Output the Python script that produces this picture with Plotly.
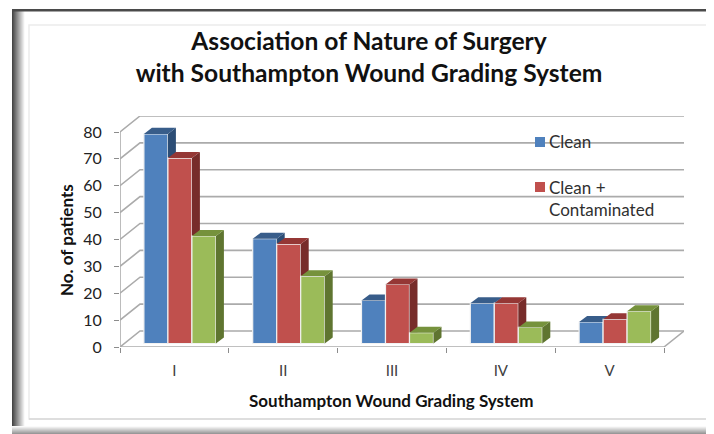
import plotly.graph_objects as go

categories = ["I", "II", "III", "IV", "V"]
clean = [78, 39, 16, 15, 8]
clean_contaminated = [69, 37, 22, 15, 9]
third_series = [40, 25, 4, 6, 12]
y_ticks = [0, 10, 20, 30, 40, 50, 60, 70, 80]

# The page has an 8px body margin, so the figure is 706x426 placed at (8, 8).
PAGE = 8
W, H = 714 - PAGE, 434 - PAGE
L, R, T, B = 120, 684, 116, 347
PX_X = 108.8
PX_Y = 2.6875
xr = [0.5, 0.5 + (R - L) / PX_X]
yr = [0, (B - T) / PX_Y]
wall_dx, wall_dy = 20 / PX_X, 16 / PX_Y
bar_dx, bar_dy = 8 / PX_X, 6 / PX_Y
bar_w = 24 / PX_X
shift, base = 5.5 / PX_X, 3.5 / PX_Y
cats = list(range(1, len(categories) + 1))


def px(x):
    return (x - L) / (R - L)


def py(y):
    return (B - y) / (B - T)


fig = go.Figure()
GRID = "#ababab"

gx, gy = [], []
for v in y_ticks:
    gx += [xr[0], xr[0] + wall_dx, cats[-1] + 0.5 + wall_dx, None]
    gy += [v, v + wall_dy, v + wall_dy, None]
gx += [cats[-1] + 0.5, cats[-1] + 0.5 + wall_dx, None, xr[0], cats[-1] + 0.5, None, xr[0], xr[0]]
gy += [0, wall_dy, None, 0, 0, None, 0, y_ticks[-1]]
fig.add_trace(go.Scatter(x=gx, y=gy, mode="lines", line=dict(color=GRID, width=1.6),
                         hoverinfo="skip", showlegend=False, cliponaxis=False))

series = [
    ("Clean", clean, "#4F81BD", "#2C4D75", "#385D8A", "x2", "y2"),
    ("Clean + Contaminated", clean_contaminated, "#C0504D", "#772C2A", "#953735", "x3", "y3"),
    ("Contaminated", third_series, "#9BBB59", "#5F7530", "#76923C", "x4", "y4"),
]
for i, (name, vals, front, side, top, xa, ya) in enumerate(series):
    centers = [c + shift + (i - 1) * bar_w for c in cats]
    sx, sy, tx, ty = [], [], [], []
    for c, v in zip(centers, vals):
        x0, x1, y1 = c - bar_w / 2, c + bar_w / 2, v + base
        sx += [x1, x1 + bar_dx, x1 + bar_dx, x1, x1, None]
        sy += [base, base + bar_dy, y1 + bar_dy, y1, base, None]
        tx += [x0, x1, x1 + bar_dx, x0 + bar_dx, x0, None]
        ty += [y1, y1, y1 + bar_dy, y1 + bar_dy, y1, None]
    fig.add_trace(go.Bar(x=centers, y=vals, base=base, width=bar_w, name=name,
                         marker=dict(color=front, line=dict(color="#f2f2f2", width=1.2)),
                         showlegend=False, xaxis=xa, yaxis=ya))
    for px_, py_, col in ((sx, sy, side), (tx, ty, top)):
        fig.add_trace(go.Scatter(x=px_, y=py_, mode="lines", fill="toself", fillcolor=col,
                                 line=dict(width=0, color=col), hoverinfo="skip",
                                 showlegend=False, xaxis=xa, yaxis=ya))

shapes = []
for k in range(13):
    g = 70 + k * 15
    shapes.append(dict(type="rect", xref="paper", yref="paper", x0=px(12 + k), x1=px(13 + k),
                       y0=py(9), y1=py(426), line_width=0, fillcolor=f"rgb({g},{g},{g})", layer="below"))
for k in range(8):
    g = 250 - k * 14
    shapes.append(dict(type="rect", xref="paper", yref="paper", x0=px(12), x1=px(714),
                       y0=py(426 + k), y1=py(427 + k), line_width=0, fillcolor=f"rgb({g},{g},{g})", layer="below"))
shapes.append(dict(type="rect", xref="paper", yref="paper", x0=px(12), x1=px(714), y0=py(9), y1=py(11.5),
                   line_width=0, fillcolor="#4a4a4a", layer="below"))
shapes.append(dict(type="rect", xref="paper", yref="paper", x0=px(29), x1=px(708.5), y0=py(25), y1=py(419),
                   line=dict(color="#ebebeb", width=1.5), fillcolor="rgba(0,0,0,0)", layer="below"))
shapes.append(dict(type="line", xref="paper", yref="paper", x0=px(708.5), x1=px(708.5), y0=py(25), y1=py(419),
                   line=dict(color="#c8c8c8", width=2), layer="below"))
shapes.append(dict(type="line", xref="paper", yref="paper", x0=px(29), x1=px(708.5), y0=py(419), y1=py(419),
                   line=dict(color="#d8d8d8", width=1.5), layer="below"))
# legend swatches
for col, cy in ((series[0][2], 142), (series[1][2], 187)):
    shapes.append(dict(type="rect", xref="paper", yref="paper", x0=px(535), x1=px(545), y0=py(cy - 5), y1=py(cy + 5),
                       line_width=0, fillcolor=col))

LEG = dict(family="Lato", size=17, color="#303030")
annotations = [
    dict(text="<b>Southampton Wound Grading System</b>", xref="paper", yref="paper", x=px(391), y=py(400),
         xanchor="center", yanchor="middle", showarrow=False, font=dict(size=17, color="#111111")),
    dict(text="<b>No. of patients</b>", xref="paper", yref="paper", x=px(66), y=py(240), textangle=-90,
         xanchor="center", yanchor="middle", showarrow=False, font=dict(size=17, color="#111111")),
]
for txt, cy in (("Clean", 141), ("Clean +", 187), ("Contaminated", 209)):
    annotations.append(dict(text=txt, xref="paper", yref="paper", x=px(549), y=py(cy), xanchor="left",
                            yanchor="middle", showarrow=False, font=LEG, xshift=-2))

hidden = dict(visible=False, fixedrange=True)
layout = dict(
    width=W, height=H, autosize=False, paper_bgcolor="white", plot_bgcolor="rgba(0,0,0,0)",
    margin=dict(l=L - PAGE, r=714 - R, t=T - PAGE, b=434 - B), barmode="overlay", shapes=shapes,
    showlegend=False, font=dict(family="Lato", color="#404040"),
    title=dict(text="<b>Association of Nature of Surgery<br>with Southampton Wound Grading System</b>",
               x=(369 - PAGE) / W, xanchor="center", xref="container", y=1 - 42 / H, yanchor="middle",
               font=dict(family="Lato", size=24.6, color="#111111")),
    xaxis=dict(range=xr, tickvals=cats, ticktext=categories, ticks="", showgrid=False, showline=False, zeroline=False,
               tickfont=dict(size=15, color="#404040"), ticklabelstandoff=13,
               minor=dict(tickvals=[c - 0.5 for c in cats] + [cats[-1] + 0.5], ticks="outside", ticklen=5,
                          tickcolor="#8c8c8c", tickwidth=1, showgrid=False)),
    yaxis=dict(range=yr, tickvals=y_ticks, ticks="outside", ticklen=5, tickcolor="#8c8c8c", showgrid=False,
               showline=False, zeroline=False, tickfont=dict(size=16, color="#222222"), ticklabelstandoff=9),
    annotations=annotations,
)
for n in (2, 3, 4):
    layout[f"xaxis{n}"] = dict(range=xr, overlaying="x", **hidden)
    layout[f"yaxis{n}"] = dict(range=yr, overlaying="y", **hidden)
fig.update_layout(**layout)
fig.write_html("out.html")
